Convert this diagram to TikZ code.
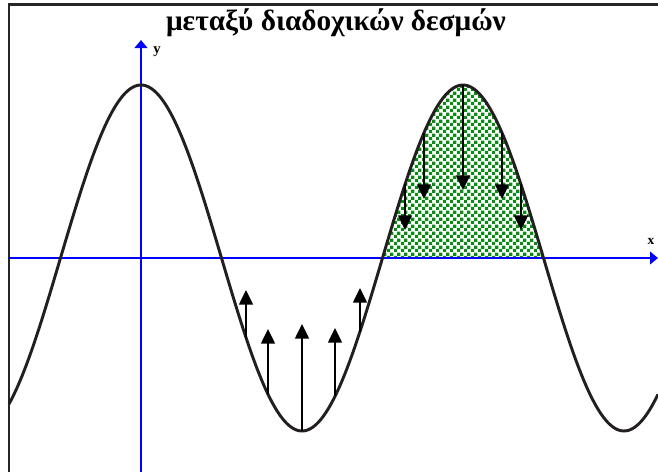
\documentclass[tikz,border=0pt]{standalone}
\usepackage{fontspec}
\setmainfont{Liberation Serif}
\usetikzlibrary{arrows.meta,patterns}
\pgfdeclarepatternformonly{mychecker}{\pgfpointorigin}{\pgfqpoint{5pt}{5pt}}{\pgfqpoint{5pt}{5pt}}{%
  \pgfpathrectangle{\pgfpointorigin}{\pgfqpoint{2.5pt}{2.5pt}}%
  \pgfpathrectangle{\pgfqpoint{2.5pt}{2.5pt}}{\pgfqpoint{2.5pt}{2.5pt}}%
  \pgfusepath{fill}}
\definecolor{hatchgreen}{RGB}{10,140,20}
\definecolor{axisblue}{RGB}{0,0,255}
\definecolor{curveblack}{RGB}{35,31,32}
\begin{document}
\begin{tikzpicture}[x=0.75pt,y=-0.75pt,
  axis/.style={draw=axisblue,line width=1.6pt,-{Triangle[width=9.5pt,length=6pt]}},
  wave/.style={draw=curveblack,line width=2.2pt},
  force/.style={draw=black,line width=1.1pt,-{Triangle[width=10.5pt,length=11pt]}},
  lbl/.style={font=\bfseries\fontsize{11}{13}\selectfont,inner sep=0pt},
  frameline/.style={draw=black!85,line width=1.6pt}]
\useasboundingbox (0,0) rectangle (658,472);
\def\wy#1{258-173*cos((#1-141)/322*360)}
% hatched region
\fill[pattern=mychecker,pattern color=hatchgreen]
  plot[domain=382.5:543.5,samples=80] (\x,{\wy{\x}}) -- cycle;
% frame (only top and left visible)
\coordinate (fbl) at (9,475);
\coordinate (ftl) at (9,4.5);
\coordinate (ftr) at (661,4.5);
\draw[frameline] (fbl) -- (ftl) -- (ftr);
% axes
\coordinate (xs) at (9,258);
\coordinate (xe) at (658,258);
\coordinate (ys) at (141,475);
\coordinate (ye) at (141,40);
\draw[axis] (xs) -- (xe);
\draw[axis] (ys) -- (ye);
\node[lbl] (ylab) at (157,52) {y};
\node[lbl,font=\bfseries\fontsize{10}{12}\selectfont] (xlab) at (651,241) {x};
% title
\node[font=\bfseries\fontsize{22}{26}\selectfont,anchor=base,inner sep=0pt] (title) at (336,30) {μεταξύ διαδοχικών δεσμών};
% wave
\draw[wave] plot[domain=9:658,samples=300] (\x,{\wy{\x}});
% upward arrows in trough
\foreach \n/\ax/\tip in {u1/246/290,u2/268/329,u3/302/324,u4/335/328,u5/360/288}{
  \coordinate (\n s) at (\ax,{\wy{\ax}});
  \coordinate (\n e) at (\ax,\tip);
  \draw[force] (\n s) -- (\n e);
}
% downward arrows in crest
\foreach \n/\ax/\tip in {d1/405/230,d2/424/199,d3/463/190,d4/502/199,d5/521/230}{
  \coordinate (\n s) at (\ax,{\wy{\ax}});
  \coordinate (\n e) at (\ax,\tip);
  \draw[force] (\n s) -- (\n e);
}
\end{tikzpicture}
\end{document}
